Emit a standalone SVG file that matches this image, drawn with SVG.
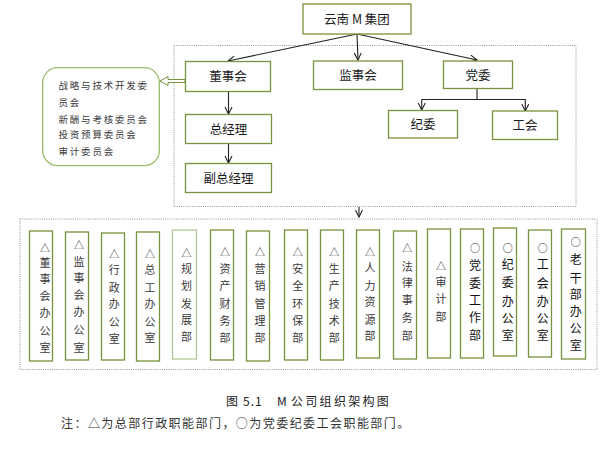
<svg xmlns="http://www.w3.org/2000/svg" width="610" height="452" viewBox="0 0 610 452">
<style>
.bx{fill:#fff;stroke:#77933c;stroke-width:1.3}
.bxl{fill:#fff;stroke:#b3c996;stroke-width:1.3}
.dot{fill:none;stroke:#8e9c82;stroke-width:1;stroke-dasharray:1 1.2}
.t{font-family:"Noto Sans CJK SC","Liberation Sans",sans-serif;font-size:12.5px;fill:#1a1a1a;text-anchor:middle}
.v{font-family:"Noto Sans CJK SC",sans-serif;font-size:11px;fill:#3a3a3a;text-anchor:middle}
.vo{font-family:"Noto Sans CJK SC",sans-serif;font-size:12px;fill:#111;text-anchor:middle}
.c{font-family:"Noto Sans CJK SC",sans-serif;font-size:9.5px;fill:#3a3a3a;letter-spacing:1.8px}
.ln{fill:none;stroke:#222;stroke-width:1.1}
.cap{font-family:"Noto Sans CJK SC",sans-serif;font-size:12px;fill:#222}
.note{font-family:"Noto Sans CJK SC",sans-serif;font-size:12px;fill:#333;letter-spacing:1.45px}
</style>
<defs>
<marker id="ah" markerWidth="10" markerHeight="10" refX="8" refY="4" orient="auto" markerUnits="userSpaceOnUse">
<path d="M1,0.5 L8,4 L1,7.5" fill="none" stroke="#222" stroke-width="1.1"/>
</marker>
</defs>

<rect class="dot" x="174" y="45.5" width="402" height="161"/>
<rect class="dot" x="20" y="219" width="577" height="150.5"/>

<g id="connectors">
<line class="ln" x1="357" y1="34" x2="228" y2="61" marker-end="url(#ah)"/>
<line class="ln" x1="357" y1="34" x2="358" y2="60" marker-end="url(#ah)"/>
<line class="ln" x1="357" y1="34" x2="477" y2="60" marker-end="url(#ah)"/>
<line class="ln" x1="228.5" y1="91" x2="228.5" y2="114" marker-end="url(#ah)"/>
<line class="ln" x1="228.5" y1="144" x2="228.5" y2="163" marker-end="url(#ah)"/>
<polyline class="ln" points="477,88 477,99.5"/>
<polyline class="ln" points="421.7,99.5 525.3,99.5 525.3,111" marker-end="url(#ah)"/>
<line class="ln" x1="421.7" y1="99.5" x2="421.7" y2="110" marker-end="url(#ah)"/>
<line class="ln" x1="359" y1="207" x2="359" y2="217" marker-end="url(#ah)"/>
<polygon points="185,79.5 168,79.5 168,76.5 160,81 168,85.5 168,82.5 185,82.5" fill="#fff" stroke="#77933c" stroke-width="1"/>
</g>

<g id="n-group"><rect class="bx" x="303" y="4" width="108" height="30"/><text class="t" x="357" y="23.5">云南 M 集团</text></g>
<g id="n-dsh"><rect class="bx" x="185.5" y="61.5" width="85" height="30"/><text class="t" x="228" y="81">董事会</text></g>
<g id="n-jsh"><rect class="bx" x="313.5" y="61" width="89" height="28.5"/><text class="t" x="358" y="80">监事会</text></g>
<g id="n-dw"><rect class="bx" x="443.5" y="61" width="69" height="27.5"/><text class="t" x="478" y="79.5">党委</text></g>
<g id="n-zjl"><rect class="bx" x="185.5" y="114.5" width="86" height="29"/><text class="t" x="228.5" y="133.5">总经理</text></g>
<g id="n-fzjl"><rect class="bx" x="185.5" y="163.5" width="86" height="29"/><text class="t" x="228.5" y="182.5">副总经理</text></g>
<g id="n-jw"><rect class="bx" x="388.5" y="110.5" width="69" height="27.5"/><text class="t" x="423" y="129">纪委</text></g>
<g id="n-gh"><rect class="bx" x="492.5" y="111" width="65" height="28.5"/><text class="t" x="525" y="130">工会</text></g>

<g id="n-committees">
<rect x="42.7" y="67.7" width="116.6" height="98" rx="15" fill="#fff" stroke="#9bbb6a" stroke-width="1.3"/>
<text class="c" x="58.5" y="88.5">战略与技术开发委</text>
<text class="c" x="58.5" y="106">员会</text>
<text class="c" x="58.5" y="122.5">新酬与考核委员会</text>
<text class="c" x="58.5" y="138">投资预算委员会</text>
<text class="c" x="58.5" y="155">审计委员会</text>
</g>

<g id="d1"><rect class="bx" x="29.5" y="231" width="23" height="130"/>
<text class="v"><tspan x="45" y="251.5" font-size="10">△</tspan><tspan x="45" y="267.3">董</tspan><tspan x="45" y="282.7">事</tspan><tspan x="45" y="300">会</tspan><tspan x="45" y="316.7">办</tspan><tspan x="45" y="335">公</tspan><tspan x="45" y="352.3">室</tspan></text></g>
<g id="d2"><rect class="bx" x="65.5" y="232" width="23" height="128"/>
<text class="v"><tspan x="79" y="249" font-size="10">△</tspan><tspan x="79" y="265.7">监</tspan><tspan x="79" y="282.3">事</tspan><tspan x="79" y="299">会</tspan><tspan x="79" y="316.3">办</tspan><tspan x="79" y="333.7">公</tspan><tspan x="79" y="351.7">室</tspan></text></g>
<g id="d3"><rect class="bx" x="101.5" y="233" width="23" height="127"/>
<text class="v"><tspan x="114.3" y="258.3" font-size="10">△</tspan><tspan x="114.3" y="274.3">行</tspan><tspan x="114.3" y="291.7">政</tspan><tspan x="114.3" y="308.3">办</tspan><tspan x="114.3" y="325.7">公</tspan><tspan x="114.3" y="343.3">室</tspan></text></g>
<g id="d4"><rect class="bx" x="136.5" y="232" width="23" height="129"/>
<text class="v"><tspan x="150" y="258.3" font-size="10">△</tspan><tspan x="150" y="274.3">总</tspan><tspan x="150" y="291.7">工</tspan><tspan x="150" y="308.3">办</tspan><tspan x="150" y="325.7">公</tspan><tspan x="150" y="341.7">室</tspan></text></g>
<g id="d5"><rect class="bxl" x="172.5" y="230" width="24" height="129"/>
<text class="v"><tspan x="186.5" y="256.7" font-size="10">△</tspan><tspan x="186.5" y="273">规</tspan><tspan x="186.5" y="290">划</tspan><tspan x="186.5" y="307.7">发</tspan><tspan x="186.5" y="324.3">展</tspan><tspan x="186.5" y="341">部</tspan></text></g>
<g id="d6"><rect class="bx" x="210.5" y="230" width="23" height="130"/>
<text class="v"><tspan x="225" y="256.3" font-size="10">△</tspan><tspan x="225" y="273.3">资</tspan><tspan x="225" y="290.3">产</tspan><tspan x="225" y="307.7">财</tspan><tspan x="225" y="325">务</tspan><tspan x="225" y="342.3">部</tspan></text></g>
<g id="d7"><rect class="bx" x="246.5" y="231" width="23" height="130"/>
<text class="v"><tspan x="260" y="256.3" font-size="10">△</tspan><tspan x="260" y="273.3">营</tspan><tspan x="260" y="290.3">销</tspan><tspan x="260" y="307.7">管</tspan><tspan x="260" y="325">理</tspan><tspan x="260" y="342.3">部</tspan></text></g>
<g id="d8"><rect class="bx" x="284.5" y="230" width="23" height="130"/>
<text class="v"><tspan x="297.7" y="256.3" font-size="10">△</tspan><tspan x="297.7" y="273.3">安</tspan><tspan x="297.7" y="290.3">全</tspan><tspan x="297.7" y="307.7">环</tspan><tspan x="297.7" y="325">保</tspan><tspan x="297.7" y="342.3">部</tspan></text></g>
<g id="d9"><rect class="bx" x="320.5" y="230" width="23" height="130"/>
<text class="v"><tspan x="334.3" y="256.3" font-size="10">△</tspan><tspan x="334.3" y="273.3">生</tspan><tspan x="334.3" y="290.3">产</tspan><tspan x="334.3" y="307.7">技</tspan><tspan x="334.3" y="325">术</tspan><tspan x="334.3" y="342.3">部</tspan></text></g>
<g id="d10"><rect class="bx" x="356.5" y="230" width="23" height="128"/>
<text class="v"><tspan x="370" y="255.7" font-size="10">△</tspan><tspan x="370" y="272.3">人</tspan><tspan x="370" y="289.7">力</tspan><tspan x="370" y="306.3">资</tspan><tspan x="370" y="324">源</tspan><tspan x="370" y="340">部</tspan></text></g>
<g id="d11"><rect class="bx" x="393.5" y="231" width="23" height="128"/>
<text class="v"><tspan x="407.3" y="252.3" font-size="10">△</tspan><tspan x="407.3" y="270.7">法</tspan><tspan x="407.3" y="287.3">律</tspan><tspan x="407.3" y="304">事</tspan><tspan x="407.3" y="322.3">务</tspan><tspan x="407.3" y="340">部</tspan></text></g>
<g id="d12"><rect class="bx" x="427.5" y="229" width="23" height="129"/>
<text class="v"><tspan x="441" y="270" font-size="10">△</tspan><tspan x="441" y="286.3">审</tspan><tspan x="441" y="303">计</tspan><tspan x="441" y="320.7">部</tspan></text></g>
<g id="d13"><rect class="bx" x="460.5" y="229" width="23" height="129"/>
<text class="vo"><tspan x="475" y="252.3" font-size="10">○</tspan><tspan x="475" y="270.3">党</tspan><tspan x="475" y="287.6">委</tspan><tspan x="475" y="305.3">工</tspan><tspan x="475" y="322">作</tspan><tspan x="475" y="340">部</tspan></text></g>
<g id="d14"><rect class="bx" x="493.5" y="228" width="23" height="128"/>
<text class="vo"><tspan x="507.7" y="252.3" font-size="10">○</tspan><tspan x="507.7" y="269.3">纪</tspan><tspan x="507.7" y="286.6">委</tspan><tspan x="507.7" y="306">办</tspan><tspan x="507.7" y="322.6">公</tspan><tspan x="507.7" y="340">室</tspan></text></g>
<g id="d15"><rect class="bx" x="528.5" y="230" width="23" height="127"/>
<text class="vo"><tspan x="542.7" y="252.3" font-size="10">○</tspan><tspan x="542.7" y="269.3">工</tspan><tspan x="542.7" y="287.6">会</tspan><tspan x="542.7" y="306">办</tspan><tspan x="542.7" y="322.6">公</tspan><tspan x="542.7" y="340">室</tspan></text></g>
<g id="d16"><rect class="bx" x="561.5" y="229" width="24" height="130"/>
<text class="vo"><tspan x="575.7" y="246.3" font-size="10">○</tspan><tspan x="575.7" y="264.3">老</tspan><tspan x="575.7" y="282.6">干</tspan><tspan x="575.7" y="299.3">部</tspan><tspan x="575.7" y="316">办</tspan><tspan x="575.7" y="332.6">公</tspan><tspan x="575.7" y="350">室</tspan></text></g>

<g id="caption">
<text class="cap" x="226" y="406">图</text>
<text class="cap" x="243" y="406" style="letter-spacing:1px">5.1</text>
<text class="cap" x="277" y="406" font-family="Liberation Serif,serif">M</text>
<text class="cap" x="291" y="406" style="letter-spacing:2.3px">公司组织架构图</text>
<text class="note" x="61" y="428">注：△为总部行政职能部门，○为党委纪委工会职能部门。</text>
</g>
</svg>
